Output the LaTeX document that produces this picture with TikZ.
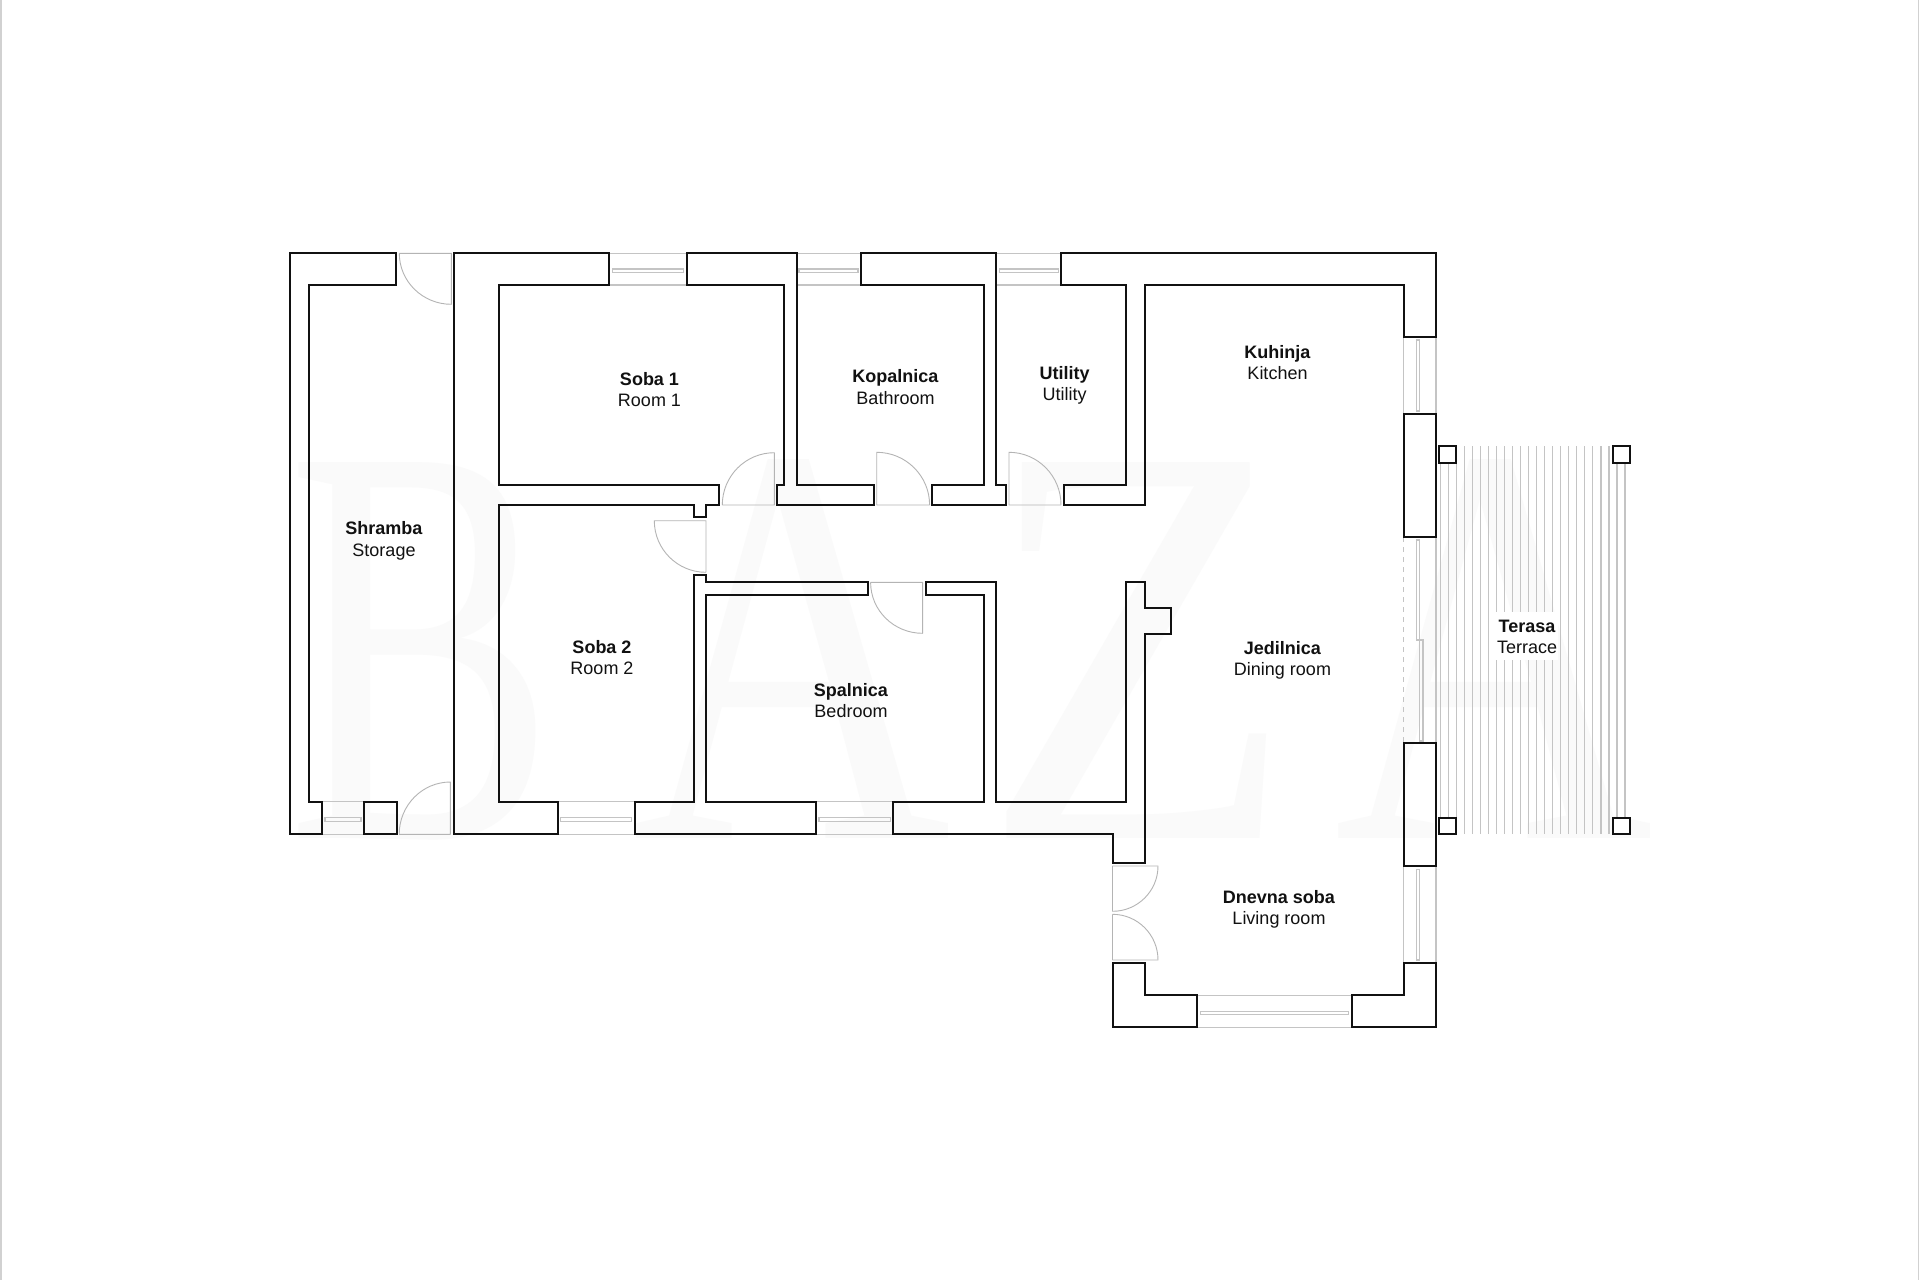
\documentclass[tikz,border=0pt]{standalone}
\usepackage{fontspec}
\setmainfont{Liberation Sans}
\newfontfamily\wmfont{Liberation Serif}
\usetikzlibrary{calc}
\definecolor{ink}{HTML}{111111}
\definecolor{thin}{HTML}{C4C4C4}
\definecolor{fine}{HTML}{B4B4B4}
\definecolor{ghost}{HTML}{FAFAFA}
\tikzset{
  wall/.style={draw=ink,line width=2pt,line join=miter},
  post/.style={wall,fill=white},
  glass/.style={draw=thin,line width=1.1pt},
  leaf/.style={draw=fine,line width=0.9pt,line join=round},
  plank/.style={draw=thin,line width=1.2pt},
  room/.style={font=\fontsize{18}{21.6}\selectfont,text=ink,align=center,inner sep=0pt},
  wmark/.style={font=\wmfont\fontsize{574}{574}\selectfont,text=ghost,anchor=base,inner sep=0pt,transform shape}
}
% hinge, end of leaf, end of swing: quarter circle from leaf end to swing end
\newcommand\doorswing[3]{%
  \draw[leaf] #3 -- #1 -- #2
    .. controls ($#2+0.5523*#3-0.5523*#1$) and ($#3+0.5523*#2-0.5523*#1$) .. #3;}
% window across a horizontal wall: x1,x2,y top,y bottom,rect x1,rect x2,rect y1,rect y2
\newcommand\hwindow[8]{%
  \draw[glass] (#1,#3) -- (#2,#3) (#1,#4) -- (#2,#4);
  \draw[glass] (#5,#7) rectangle (#6,#8);}
\newcommand\vwindow[8]{%
  \draw[glass] (#3,#1) -- (#3,#2) (#4,#1) -- (#4,#2);
  \draw[glass] (#7,#5) rectangle (#8,#6);}
\begin{document}
\begin{tikzpicture}[x=1pt,y=-1pt]
\useasboundingbox (0,0) rectangle (1920,1280);
\fill[white] (0,0) rectangle (1920,1280);
% page edges
\fill[black!18] (0,0) rectangle (2,1280);
\fill[black!18] (1917.5,0) rectangle (1919,1280);
% watermark
\node[wmark,xscale=0.70] (wmB) at (421,838) {B};
\node[wmark,xscale=0.77] (wmA) at (792,838) {A};
\node[wmark,xscale=0.89] (wmZ) at (1139,838) {Z};
\node[wmark,xscale=0.77] (wmAA) at (1494,838) {A};
% terrace planks
\foreach \k in {0,...,23}{
  \draw[plank] ({1440.3+8.03*\k},446) -- ({1440.3+8.03*\k},834);
}
\fill[white] (1495,612) rectangle (1558,660);
\draw[plank] (1436,537) -- (1436,743);
% posts
\draw[post] (1438.7,446) rectangle (1455.7,462.7);
\draw[post] (1612.7,446) rectangle (1629.5,462.7);
\draw[post] (1438.7,817.7) rectangle (1455.7,834.3);
\draw[post] (1612.7,817.7) rectangle (1629.5,834.3);
% windows
\hwindow{609.3}{686.8}{253.3}{285}{612.1}{683.6}{269}{272.3}
\hwindow{796.5}{860.7}{253.3}{285}{799}{858}{269}{272.3}
\hwindow{996.4}{1061}{253.3}{285}{999.4}{1058.4}{269}{272.3}
\hwindow{322}{363.7}{801.7}{834.3}{325}{361}{817.7}{821.3}
\hwindow{557.5}{635.1}{801.7}{834.3}{560.5}{631.7}{817.7}{821.3}
\hwindow{816}{893.2}{801.7}{834.3}{819}{890.1}{817.7}{821.3}
\hwindow{1196.6}{1351.5}{995.3}{1027.7}{1200.5}{1348.4}{1011.3}{1014.7}
\vwindow{336.7}{414}{1403.5}{1436}{340}{411}{1416.3}{1419.7}
\vwindow{866}{963.3}{1403.5}{1436}{869.3}{960}{1416.5}{1419.7}
% sliding door to the terrace
\draw[glass,dashed,dash pattern=on 5pt off 5pt] (1403.5,537) -- (1403.5,743);
\draw[glass] (1416.3,540) rectangle (1419.7,640);
\draw[glass] (1419.7,640) rectangle (1423,741);
% doors
\doorswing{(451.4,253.3)}{(451.4,304.3)}{(399.3,253.3)}
\doorswing{(774.3,505)}{(774.3,452.7)}{(722.3,505)}
\doorswing{(706,520.7)}{(654.3,520.7)}{(706,572.3)}
\doorswing{(876.7,505)}{(876.7,452.3)}{(929.6,505)}
\doorswing{(1009,505)}{(1009,452.3)}{(1061,505)}
\doorswing{(922.6,582.3)}{(922.6,633.3)}{(870.6,582.3)}
\doorswing{(450.4,834.3)}{(450.4,782)}{(399.2,834.3)}
\doorswing{(1112.5,866)}{(1158,866)}{(1112.5,911.3)}
\doorswing{(1112.5,960)}{(1158,960)}{(1112.5,914.3)}
% walls
\draw[wall] (289.5,253.3) -- (396.4,253.3) -- (396.4,285) -- (309,285) -- (309,801.7) -- (322,801.7) -- (322,834.3) -- (289.5,834.3) -- cycle;
\draw[wall] (363.7,801.7) rectangle (396.6,834.3);
\draw[wall] (454.3,253.3) -- (609.3,253.3) -- (609.3,285) -- (499.4,285) -- (499.4,485) -- (718.9,485) -- (718.9,505) -- (705.8,505) -- (705.8,517.3) -- (693.5,517.3) -- (693.5,505) -- (499.4,505) -- (499.4,801.7) -- (557.5,801.7) -- (557.5,834.3) -- (454.3,834.3) -- cycle;
\draw[wall] (686.8,253.3) -- (796.5,253.3) -- (796.5,485) -- (874.1,485) -- (874.1,505) -- (777.3,505) -- (777.3,485) -- (784,485) -- (784,285) -- (686.8,285) -- cycle;
\draw[wall] (860.7,253.3) -- (996.4,253.3) -- (996.4,485) -- (1006.4,485) -- (1006.4,505) -- (931.8,505) -- (931.8,485) -- (983.8,485) -- (983.8,285) -- (860.7,285) -- cycle;
\draw[wall] (1061,253.3) -- (1435.7,253.3) -- (1435.7,336.7) -- (1403.5,336.7) -- (1403.5,285) -- (1145.1,285) -- (1145.1,505) -- (1064,505) -- (1064,485) -- (1126,485) -- (1126,285) -- (1061,285) -- cycle;
\draw[wall] (635.1,801.7) -- (693.7,801.7) -- (693.7,575) -- (705.8,575) -- (705.8,582.3) -- (867.6,582.3) -- (867.6,595) -- (705.8,595) -- (705.8,801.7) -- (816,801.7) -- (816,834.3) -- (635.1,834.3) -- cycle;
\draw[wall] (893.2,834.3) -- (893.2,801.7) -- (983.8,801.7) -- (983.8,595) -- (925.7,595) -- (925.7,582.3) -- (996.4,582.3) -- (996.4,801.7) -- (1125.5,801.7) -- (1125.5,582) -- (1145,582) -- (1145,607.7) -- (1171,607.7) -- (1171,633.7) -- (1145,633.7) -- (1145,863.3) -- (1112.5,863.3) -- (1112.5,834.3) -- cycle;
\draw[wall] (1112.5,963.3) -- (1145,963.3) -- (1145,995.3) -- (1196.6,995.3) -- (1196.6,1027) -- (1112.5,1027) -- cycle;
\draw[wall] (1351.5,1027) -- (1351.5,995.3) -- (1403.5,995.3) -- (1403.5,963.3) -- (1435.7,963.3) -- (1435.7,1027) -- cycle;
\draw[wall] (1403.5,414) rectangle (1435.7,537);
\draw[wall] (1403.5,743) rectangle (1435.7,866);
% labels
\node[room] (soba1) at (649.5,389.5) {\textbf{Soba 1}\\Room 1};
\node[room] (kopalnica) at (895.5,387) {\textbf{Kopalnica}\\Bathroom};
\node[room] (utility) at (1064.5,385.5) {\textbf{Utility}\\Utility};
\node[room] (kuhinja) at (1277.5,362.5) {\textbf{Kuhinja}\\Kitchen};
\node[room] (shramba) at (384,541) {\textbf{Shramba}\\Storage};
\node[room] (soba2) at (602,657.5) {\textbf{Soba 2}\\Room 2};
\node[room] (spalnica) at (851,700.5) {\textbf{Spalnica}\\Bedroom};
\node[room] (jedilnica) at (1282.5,660.5) {\textbf{Jedilnica}\\Dining room};
\node[room] (terasa) at (1527,637) {\textbf{Terasa}\\Terrace};
\node[room] (dnevna) at (1279,909.5) {\textbf{Dnevna soba}\\Living room};
\end{tikzpicture}
\end{document}
